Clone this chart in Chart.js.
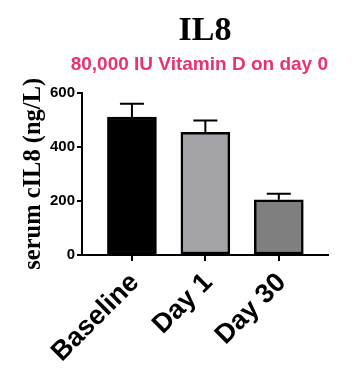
<!DOCTYPE html>
<html>
<head>
<meta charset="utf-8">
<script src="https://cdn.jsdelivr.net/npm/chart.js@4"></script>
<style>
  html, body { margin: 0; padding: 0; background: #fff; }
  #grafico { display: block; }
</style>
</head>
<body>
<canvas id="grafico" width="358" height="375"></canvas>
<script>
const categorias = ['Baseline', 'Day 1', 'Day 30'];
const medias = [510, 453, 204];
const errores = [49, 44, 22];
const colores = ['#000000', '#A3A3A8', '#7F7F7F'];
const ticksY = [0, 200, 400, 600];

// error bars drawn on top of the bars, upward only
const barrasError = {
  id: 'barrasError',
  afterDatasetsDraw(chart) {
    const ctx = chart.ctx;
    const x = chart.scales.x;
    const y = chart.scales.y;
    ctx.save();
    ctx.strokeStyle = '#000';
    ctx.lineWidth = 2;
    medias.forEach((m, i) => {
      const px = x.getPixelForValue(i);
      const y1 = y.getPixelForValue(m);
      const y2 = y.getPixelForValue(m + errores[i]);
      ctx.beginPath();
      ctx.moveTo(px, y1);
      ctx.lineTo(px, y2);
      ctx.moveTo(px - 12, y2);
      ctx.lineTo(px + 12, y2);
      ctx.stroke();
    });
    ctx.restore();
  }
};

document.addEventListener("DOMContentLoaded", () => {
  const lienzo = document.querySelector("#grafico");
  new Chart(lienzo, {
    type: 'bar',
    data: {
      datasets: [{
        data: medias.map((v, i) => ({ x: i, y: v })),
        backgroundColor: colores,
        borderColor: '#000',
        borderWidth: 2.5,
        borderSkipped: false,
        barThickness: 49
      }]
    },
    plugins: [barrasError],
    options: {
      responsive: false,
      animation: false,
      layout: { padding: { left: 0, right: 30, top: 0, bottom: 0 } },
      plugins: {
        legend: { display: false },
        tooltip: { enabled: false },
        title: {
          display: true,
          text: 'IL8',
          fullSize: false,
          color: '#000',
          font: { family: 'Liberation Serif', size: 34, weight: 'bold' },
          padding: { top: 11, bottom: 2 }
        },
        subtitle: {
          display: true,
          text: '80,000 IU Vitamin D on day 0',
          fullSize: true,
          align: 'end',
          color: '#E8336E',
          font: { family: 'Liberation Sans', size: 19, weight: 'bold' },
          padding: { top: 0, bottom: 16 }
        }
      },
      scales: {
        x: {
          type: 'linear',
          min: -0.68,
          max: 2.67,
          offset: false,
          afterBuildTicks: (s) => { s.ticks = categorias.map((c, i) => ({ value: i })); },
          afterFit: (s) => { s.height = 120; },
          grid: { display: true, offset: false, drawOnChartArea: false, drawTicks: true, tickLength: 6, color: '#000', lineWidth: 2 },
          border: { display: true, color: '#000', width: 2 },
          ticks: {
            autoSkip: false,
            minRotation: 45,
            maxRotation: 45,
            padding: 6,
            labelOffset: 3,
            color: '#000',
            font: { family: 'Liberation Sans', size: 27, weight: 'bold' },
            callback: (v) => categorias[v]
          }
        },
        y: {
          min: 0,
          max: 600,
          afterBuildTicks: (s) => { s.ticks = ticksY.map(v => ({ value: v })); },
          afterFit: (s) => { s.width = 82; },
          grid: { display: true, drawOnChartArea: false, drawTicks: true, tickLength: 5, color: '#000', lineWidth: 2 },
          border: { display: true, color: '#000', width: 2 },
          ticks: {
            padding: 2,
            color: '#000',
            font: { family: 'Liberation Sans', size: 15, weight: 'bold' }
          },
          title: {
            display: true,
            text: 'serum cIL8 (ng/L)',
            color: '#000',
            font: { family: 'Liberation Serif', size: 24.5, weight: 'bold' },
            padding: { top: 19, bottom: 2 }
          }
        }
      }
    }
  });
});
</script>
</body>
</html>
